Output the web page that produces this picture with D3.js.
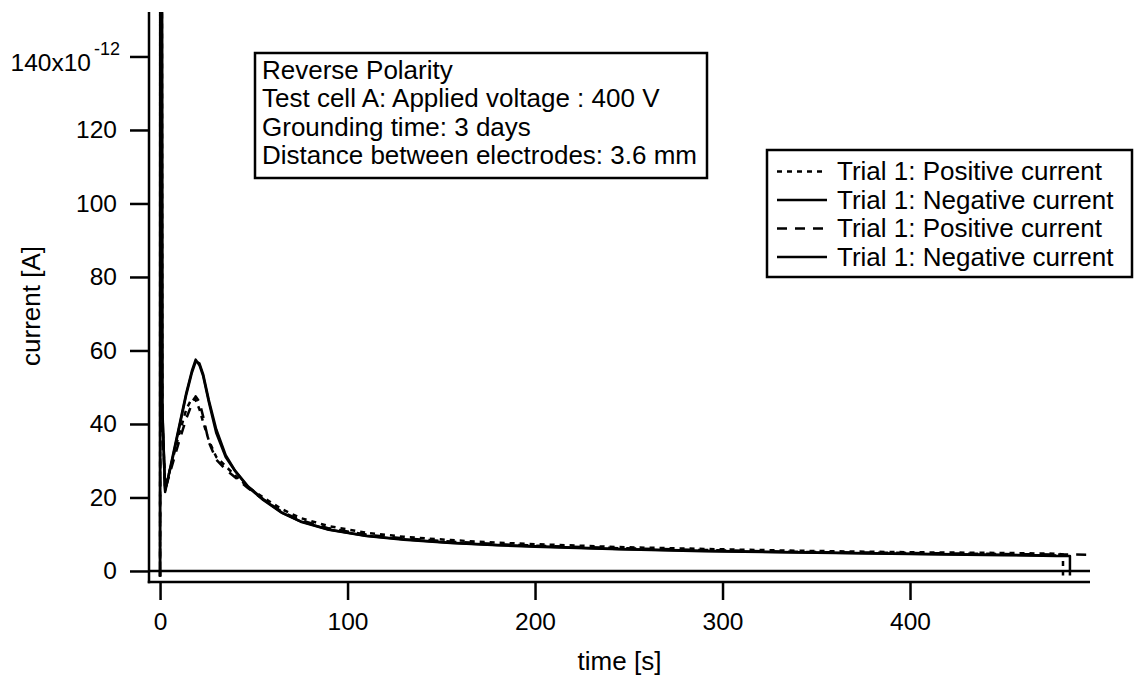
<!DOCTYPE html>
<html>
<head>
<meta charset="utf-8">
<script src="https://cdn.jsdelivr.net/npm/d3@7"></script>
<style>
  html, body { margin: 0; padding: 0; background: #fff; }
  svg { display: block; }
  text { font-family: "Liberation Sans", Arial, sans-serif; fill: #000; }
</style>
</head>
<body>
<svg id="chart" width="1139" height="678"></svg>
<script>
// Sample times [s] shared by the four current traces
const timeS = [0, 0.3, 1.2, 2.7, 6, 10, 14, 17, 19, 21, 23, 26, 30, 35, 40, 47, 55, 65, 75, 90, 110, 130, 155, 180, 200, 245, 290, 340, 400, 450, 478];

// Currents [pA] for each trace
const posTrial1a = [-1.5, 520, 42, 22.5, 29, 37, 44, 47, 46.5, 44, 40.5, 35.5, 31, 28.5, 26, 22.8, 20, 16.8, 14.4, 12.2, 10.4, 9.3, 8.4, 7.7, 7.3, 6.5, 6.0, 5.5, 5.1, 4.9, 4.7];
const negTrial1a = [-1.5, 600, 45, 21.5, 29.5, 39, 48.5, 54.5, 57.5, 56, 53, 46, 37.5, 31, 27.2, 22.8, 19.3, 15.8, 13.4, 11.2, 9.5, 8.5, 7.6, 7.0, 6.6, 5.9, 5.4, 5.0, 4.6, 4.3, 4.1];
const posTrial1b = [-1.5, 115, 40, 22, 28, 35, 41.5, 45.5, 47.5, 46, 42, 35, 30.3, 27.6, 25.5, 22.5, 19.5, 16.1, 13.8, 11.6, 9.9, 8.9, 8.0, 7.3, 6.9, 6.2, 5.7, 5.2, 4.9, 4.6, 4.5];
const negTrial1b = [-1.5, 560, 44, 22, 29, 38.5, 48, 54, 57, 56.5, 53.5, 46.5, 38.5, 31.5, 27.3, 23, 19.5, 15.9, 13.5, 11.3, 9.6, 8.6, 7.7, 7.1, 6.7, 6.0, 5.5, 5.1, 4.7, 4.4, 4.2];

// Final samples of each trace: [time, current] pairs after the shared grid
const tailPos1a = [[481.6, 4.5], [481.6, -1.2]];
const tailNeg1a = [[485.3, 4.1], [485.3, -1.2]];
const tailPos1b = [[500, 4.4]];
const tailNeg1b = [];

const seriesNames = ["Trial 1: Positive current", "Trial 1: Negative current", "Trial 1: Positive current", "Trial 1: Negative current"];
const seriesDash = ["5,5", null, "10,8", null];

const xTicks = [0, 100, 200, 300, 400];
const yTicks = [0, 20, 40, 60, 80, 100, 120, 140];

const annotation = [
  "Reverse Polarity",
  "Test cell A: Applied voltage : 400 V",
  "Grounding time: 3 days",
  "Distance between electrodes: 3.6 mm"
];

// ---- layout ----
const plotLeft = 149, plotRight = 1090, plotTop = 12, plotBottom = 582;
const svg = d3.select("#chart");

const x = d3.scaleLinear().domain([-5.9, 496]).range([plotLeft, plotRight]);
const y = d3.scaleLinear().domain([-3, 152.1]).range([plotBottom, plotTop]);

const build = (vals, tail) => timeS.map((t, i) => [t, vals[i]]).concat(tail);
const series = [
  build(posTrial1a, tailPos1a),
  build(negTrial1a, tailNeg1a),
  build(posTrial1b, tailPos1b),
  build(negTrial1b, tailNeg1b)
];

svg.append("defs").append("clipPath").attr("id", "plotClip")
  .append("rect").attr("x", plotLeft).attr("y", plotTop)
  .attr("width", plotRight - plotLeft).attr("height", plotBottom - plotTop);

// zero line
svg.append("line")
  .attr("x1", plotLeft).attr("x2", plotRight)
  .attr("y1", y(0)).attr("y2", y(0))
  .attr("stroke", "#000").attr("stroke-width", 2.5);

// traces
const line = d3.line().x(d => x(d[0])).y(d => y(d[1]));
svg.append("g").attr("clip-path", "url(#plotClip)")
  .selectAll("path").data(series).join("path")
  .attr("d", line)
  .attr("fill", "none")
  .attr("stroke", "#000")
  .attr("stroke-width", 2.5)
  .attr("stroke-linejoin", "round")
  .attr("stroke-dasharray", (d, i) => seriesDash[i]);

// axes
const yAxis = svg.append("g").attr("transform", `translate(${plotLeft},0)`)
  .call(d3.axisLeft(y).tickValues(yTicks).tickSize(19).tickSizeOuter(0).tickPadding(13));
const xAxis = svg.append("g").attr("transform", `translate(0,${plotBottom})`)
  .call(d3.axisBottom(x).tickValues(xTicks).tickSize(18).tickSizeOuter(0).tickPadding(13));

[yAxis, xAxis].forEach(g => {
  g.selectAll("path, line").attr("stroke", "#000").attr("stroke-width", 2.5);
  g.selectAll("text").attr("font-size", 24.5).attr("font-family", "Liberation Sans, Arial, sans-serif").attr("fill", "#000");
});
xAxis.select(".domain").attr("d", `M${plotLeft - 1.25},0H${plotRight}`);
yAxis.select(".domain").attr("d", `M0,${plotTop}V${plotBottom + 1.25}`);

// top tick label carries the exponent
yAxis.selectAll(".tick").filter(d => d === 140).select("text")
  .text(null).attr("dy", null).attr("y", 14).attr("x", -29)
  .call(t => {
    t.append("tspan").text("140x10");
    t.append("tspan").attr("font-size", 18).attr("dx", 3).attr("dy", -16).text("-12");
  });

// axis titles
svg.append("text")
  .attr("transform", `translate(40,${(plotTop + plotBottom) / 2 + 9}) rotate(-90)`)
  .attr("text-anchor", "middle").attr("font-size", 26).text("current [A]");
svg.append("text")
  .attr("x", (plotLeft + plotRight) / 2).attr("y", 670)
  .attr("text-anchor", "middle").attr("font-size", 26).text("time [s]");

// annotation box
const ann = svg.append("g");
ann.append("rect").attr("x", 255).attr("y", 53).attr("width", 452).attr("height", 125)
  .attr("fill", "#fff").attr("stroke", "#000").attr("stroke-width", 2.5);
ann.selectAll("text").data(annotation).join("text")
  .attr("x", 262).attr("y", (d, i) => 79 + i * 28.3)
  .attr("font-size", 26).text(d => d);

// legend
const leg = svg.append("g");
leg.append("rect").attr("x", 767).attr("y", 150).attr("width", 365).attr("height", 127)
  .attr("fill", "#fff").attr("stroke", "#000").attr("stroke-width", 2.5);
const rows = leg.selectAll("g.row").data(seriesNames).join("g").attr("class", "row")
  .attr("transform", (d, i) => `translate(0,${171.5 + i * 28.5})`);
rows.append("line").attr("x1", 777).attr("x2", 827)
  .attr("stroke", "#000").attr("stroke-width", 2.5)
  .attr("stroke-dasharray", (d, i) => seriesDash[i]);
rows.append("text").attr("x", 837).attr("y", 8.5).attr("font-size", 26).text(d => d);
</script>
</body>
</html>
